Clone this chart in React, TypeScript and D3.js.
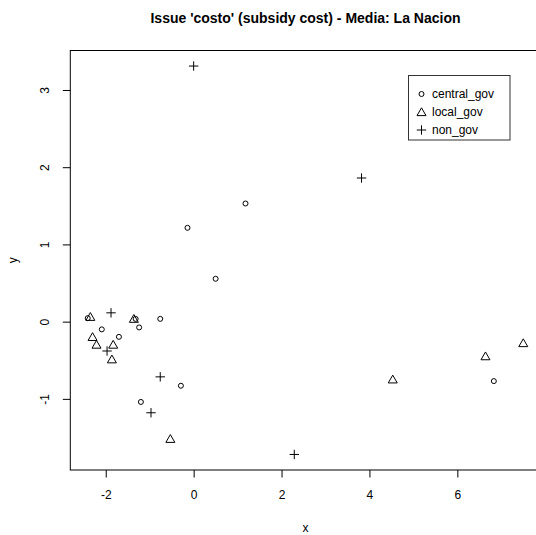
import React, { useEffect, useRef } from 'react';
import * as d3 from 'd3';

// values
const centralX = [-2.41, -1.32, -0.76, -2.09, -1.24, -1.70, -0.29, -1.20, -0.14, 1.18, 0.50, 6.83];
const centralY = [0.045, 0.036, 0.036, -0.10, -0.075, -0.197, -0.83, -1.04, 1.215, 1.53, 0.555, -0.77];
const localX = [-2.35, -1.36, -2.30, -2.21, -1.83, -1.86, -0.53, 4.53, 6.64, 7.50];
const localY = [0.05, 0.025, -0.21, -0.31, -0.31, -0.50, -1.53, -0.76, -0.46, -0.29];
const nonX = [0.0, 3.82, 2.29, -1.88, -1.97, -0.76, -0.97];
const nonY = [3.31, 1.86, -1.72, 0.114, -0.38, -0.715, -1.18];

const xTicks = [-2, 0, 2, 4, 6];
const yTicks = [-1, 0, 1, 2, 3];
const groups = ['central_gov', 'local_gov', 'non_gov'];
const title = "Issue 'costo' (subsidy cost) - Media: La Nacion";

const App = () => {
    const ref = useRef<SVGSVGElement>(null);

    useEffect(() => {
        document.body.style.margin = '0';
        const svg = d3.select(ref.current);
        svg.selectAll('*').remove();

        const width = 536;
        const height = 535;
        const box = { left: 70.3, right: 540.7, top: 50.5, bottom: 470 };
        const font = '"Liberation Sans", Arial, sans-serif';

        // R style limits: data range plus 4% each side
        const allX = [...centralX, ...localX, ...nonX];
        const allY = [...centralY, ...localY, ...nonY];
        const [x0, x1] = d3.extent(allX) as [number, number];
        const [y0, y1] = d3.extent(allY) as [number, number];
        const xPad = (x1 - x0) * 0.04;
        const yPad = (y1 - y0) * 0.04;

        const xScale = d3.scaleLinear().domain([x0 - xPad, x1 + xPad]).range([box.left, box.right]);
        const yScale = d3.scaleLinear().domain([y0 - yPad, y1 + yPad]).range([box.bottom, box.top]);

        svg.attr('width', width).attr('height', height);
        svg.append('rect').attr('width', width).attr('height', height).attr('fill', '#fff');

        // title
        svg.append('text')
            .attr('x', (box.left + box.right) / 2)
            .attr('y', 23)
            .attr('text-anchor', 'middle')
            .attr('font-family', font)
            .attr('font-weight', 'bold')
            .attr('font-size', 14)
            .text(title);

        const fmt = (d: d3.NumberValue) => String(d);

        // axes
        const xAxis = d3.axisBottom(xScale).tickValues(xTicks).tickFormat(fmt).tickSize(7.5).tickSizeOuter(0);
        const gx = svg.append('g').attr('transform', `translate(0, ${box.bottom})`).call(xAxis);
        gx.select('.domain').remove();
        gx.selectAll('line').attr('stroke', '#000');
        gx.selectAll('text').attr('font-family', font).attr('font-size', 12).attr('fill', '#000').attr('dy', null).attr('y', 29);

        const yAxis = d3.axisLeft(yScale).tickValues(yTicks).tickFormat(fmt).tickSize(7.5).tickSizeOuter(0);
        const gy = svg.append('g').attr('transform', `translate(${box.left}, 0)`).call(yAxis);
        gy.select('.domain').remove();
        gy.selectAll('line').attr('stroke', '#000');
        gy.selectAll('text')
            .attr('font-family', font)
            .attr('font-size', 12)
            .attr('fill', '#000')
            .attr('x', null)
            .attr('dy', null)
            .attr('text-anchor', 'middle')
            .attr('transform', 'translate(-21.5, 0) rotate(-90)');

        // axis titles
        svg.append('text')
            .attr('x', (box.left + box.right) / 2)
            .attr('y', 532)
            .attr('text-anchor', 'middle')
            .attr('font-family', font)
            .attr('font-size', 12)
            .text('x');
        svg.append('text')
            .attr('transform', `translate(17, ${(box.top + box.bottom) / 2}) rotate(-90)`)
            .attr('text-anchor', 'middle')
            .attr('font-family', font)
            .attr('font-size', 12)
            .text('y');

        // plot box (right side runs past the window)
        svg.append('rect')
            .attr('x', box.left)
            .attr('y', box.top)
            .attr('width', box.right - box.left)
            .attr('height', box.bottom - box.top)
            .attr('fill', 'none')
            .attr('stroke', '#000');

        const triPath = (cx: number, cy: number) =>
            `M${cx},${cy - 5.2}L${cx + 4.5},${cy + 2.6}L${cx - 4.5},${cy + 2.6}Z`;
        const plusPath = (cx: number, cy: number) =>
            `M${cx - 4.7},${cy}H${cx + 4.7}M${cx},${cy - 4.7}V${cy + 4.7}`;

        const g = svg.append('g').attr('fill', 'none').attr('stroke', '#000').attr('stroke-width', 1);

        g.selectAll('.central')
            .data(centralX)
            .enter()
            .append('circle')
            .attr('class', 'central')
            .attr('cx', d => xScale(d))
            .attr('cy', (d, i) => yScale(centralY[i]))
            .attr('r', 2.5);

        g.selectAll('.local')
            .data(localX)
            .enter()
            .append('path')
            .attr('class', 'local')
            .attr('d', (d, i) => triPath(xScale(d), yScale(localY[i])));

        g.selectAll('.non')
            .data(nonX)
            .enter()
            .append('path')
            .attr('class', 'non')
            .attr('d', (d, i) => plusPath(xScale(d), yScale(nonY[i])));

        // legend
        const lg = svg.append('g');
        lg.append('rect')
            .attr('x', 408.5)
            .attr('y', 75.5)
            .attr('width', 101.5)
            .attr('height', 64.5)
            .attr('fill', '#fff')
            .attr('stroke', '#333');
        const rowY = [94, 112, 130];
        groups.forEach((name, i) => {
            const sx = 421.5;
            const sy = rowY[i];
            if (i === 0) {
                lg.append('circle').attr('cx', sx).attr('cy', sy).attr('r', 2.5).attr('fill', 'none').attr('stroke', '#000');
            } else if (i === 1) {
                lg.append('path').attr('d', triPath(sx, sy + 1)).attr('fill', 'none').attr('stroke', '#000');
            } else {
                lg.append('path').attr('d', plusPath(sx, sy)).attr('fill', 'none').attr('stroke', '#000');
            }
            lg.append('text')
                .attr('x', 432)
                .attr('y', sy + 4.3)
                .attr('font-family', font)
                .attr('font-size', 12)
                .text(name);
        });
    }, []);

    return <svg ref={ref} style={{ display: 'block' }} />;
};

export default App;
